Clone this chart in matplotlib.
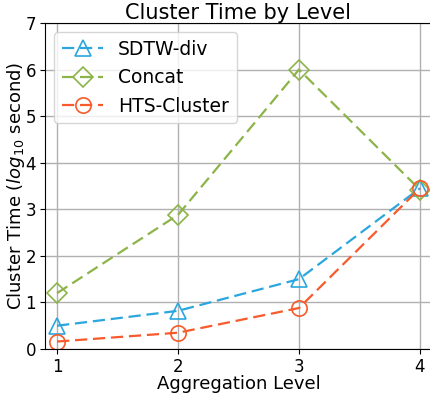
import matplotlib
matplotlib.use("Agg")
import matplotlib.pyplot as plt

levels = [1, 2, 3, 4]
sdtw = [0.50, 0.82, 1.50, 3.45]
concat = [1.20, 2.88, 6.00, 3.42]
hts = [0.16, 0.35, 0.88, 3.45]
series_names = ["SDTW-div", "Concat", "HTS-Cluster"]

fig = plt.figure(figsize=(4.31, 3.94), dpi=100)
ax = fig.add_axes([45/431, 1-349/394, 387/431, 326/394])

common = dict(linestyle="--", dashes=(5.5, 2.6), markerfacecolor="none",
              markeredgewidth=1.2, linewidth=1.6)
ax.plot(levels, sdtw, color="#2ba6de", marker="^", markersize=11, label=series_names[0], **common)
ax.plot(levels, concat, color="#8cb449", marker="D", markersize=10, label=series_names[1], **common)
ax.plot(levels, hts, color="#f85a2b", marker="o", markersize=11, label=series_names[2], **common)

ax.set_xlim(0.9, 4.1)
ax.set_ylim(0, 7)
ax.set_xticks(levels)
ax.set_yticks(range(0, 8))
ax.tick_params(labelsize=12, length=3.5, pad=3)
ax.grid(True, color="#b0b0b0", linewidth=1)
ax.set_axisbelow(True)
ax.set_xlabel("Aggregation Level", fontsize=13, labelpad=-0.5)
ax.set_ylabel("Cluster Time ($log_{10}$ second)", fontsize=13, labelpad=-1)
ax.set_title("Cluster Time by Level", fontsize=15, pad=3)
ax.legend(loc="upper left", fontsize=13.5, handlelength=2.2)

fig.savefig("out.png", dpi=100)
